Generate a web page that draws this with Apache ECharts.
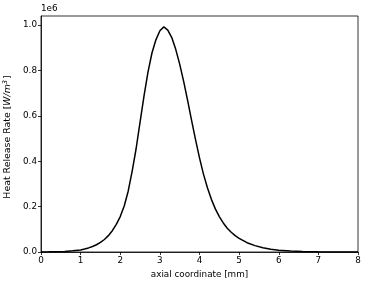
<!DOCTYPE html>
<html>
<head>
<meta charset="utf-8">
<script src="https://cdn.jsdelivr.net/npm/echarts@6/dist/echarts.min.js"></script>
<style>html,body{margin:0;padding:0;background:#fff}#c{width:368px;height:286px}</style>
</head>
<body>
<div id="c"></div>
<script>
// axial coordinate [mm]
var xPos = [0, 0.2, 0.4, 0.6, 0.8, 1.0, 1.1, 1.2, 1.3, 1.4, 1.5, 1.6, 1.7, 1.8, 1.9, 2.0, 2.1, 2.2, 2.3, 2.4, 2.5, 2.6, 2.7, 2.8, 2.9, 3.0, 3.1, 3.2, 3.3, 3.4, 3.5, 3.6, 3.7, 3.8, 3.9, 4.0, 4.1, 4.2, 4.3, 4.4, 4.5, 4.6, 4.7, 4.8, 4.9, 5.0, 5.2, 5.4, 5.6, 5.8, 6.0, 6.3, 6.6, 7.0, 7.5, 8.0];
// heat release rate [1e6 W/m^3]
var hrr = [0.0003, 0.0006, 0.0012, 0.0025, 0.005, 0.009, 0.013, 0.018, 0.024, 0.032, 0.042, 0.055, 0.072, 0.094, 0.122, 0.156, 0.203, 0.268, 0.355, 0.455, 0.572, 0.688, 0.793, 0.877, 0.935, 0.975, 0.992, 0.978, 0.945, 0.893, 0.828, 0.752, 0.668, 0.580, 0.495, 0.415, 0.343, 0.283, 0.232, 0.190, 0.156, 0.128, 0.105, 0.087, 0.072, 0.060, 0.041, 0.028, 0.019, 0.012, 0.008, 0.004, 0.002, 0.001, 0.0004, 0.0002];
var xTicks = [0, 1, 2, 3, 4, 5, 6, 7, 8];
var yTicks = [0, 0.2, 0.4, 0.6, 0.8, 1.0];

var data = xPos.map(function (x, i) { return [x, hrr[i]]; });
var chart = echarts.init(document.getElementById('c'), null, {renderer: 'canvas'});
var font = 'DejaVu Sans';
var fs = 8.8;
var nfs = 9.4;
chart.setOption({
  animation: false,
  backgroundColor: '#fff',
  grid: {left: 41, right: 10, top: 16, bottom: 34, containLabel: false, outerBoundsMode: 'none',
    show: true, borderColor: '#000', borderWidth: 0.8, backgroundColor: 'transparent'},
  xAxis: {
    type: 'value', min: 0, max: 8, interval: 1,
    name: 'axial coordinate [mm]', nameLocation: 'middle', nameGap: 18,
    nameTextStyle: {fontFamily: font, fontSize: fs, color: '#000'},
    axisLine: {show: true, onZero: false, lineStyle: {color: '#000', width: 0.8}},
    axisTick: {show: true, length: 3, inside: false, lineStyle: {color: '#000', width: 0.8}, customValues: xTicks},
    axisLabel: {fontFamily: font, fontSize: fs, color: '#000', margin: 4, customValues: xTicks, formatter: function (v) { return String(v); }},
    splitLine: {show: false}
  },
  yAxis: {
    type: 'value', min: 0, max: 1.04,
    name: '{n|Heat Release Rate [}{i|W/m}{s|3}{n|]}', nameLocation: 'middle', nameGap: 27,
    nameTextStyle: {fontFamily: font, fontSize: nfs, color: '#000', padding: [0, 6, 0, 0],
      rich: {
        n: {fontFamily: font, fontSize: nfs, color: '#000'},
        i: {fontFamily: font, fontSize: nfs, fontStyle: 'italic', color: '#000'},
        s: {fontFamily: font, fontSize: 6.5, fontStyle: 'italic', color: '#000', verticalAlign: 'top', padding: [0, 1, 4, 0]}
      }},
    axisLine: {show: true, onZero: false, lineStyle: {color: '#000', width: 0.8}},
    axisTick: {show: true, length: 3, inside: false, lineStyle: {color: '#000', width: 0.8}, customValues: yTicks},
    axisLabel: {fontFamily: font, fontSize: fs, color: '#000', margin: 4, customValues: yTicks, formatter: function (v) { return v.toFixed(1); }},
    splitLine: {show: false}
  },
  graphic: [{type: 'text', left: 41, top: 4, style: {text: '1e6', fontFamily: font, fontSize: fs, fill: '#000'}}],
  series: [{
    type: 'line', data: data, showSymbol: false, smooth: false,
    lineStyle: {color: '#000', width: 1.5}, clip: true
  }]
});
</script>
</body>
</html>
